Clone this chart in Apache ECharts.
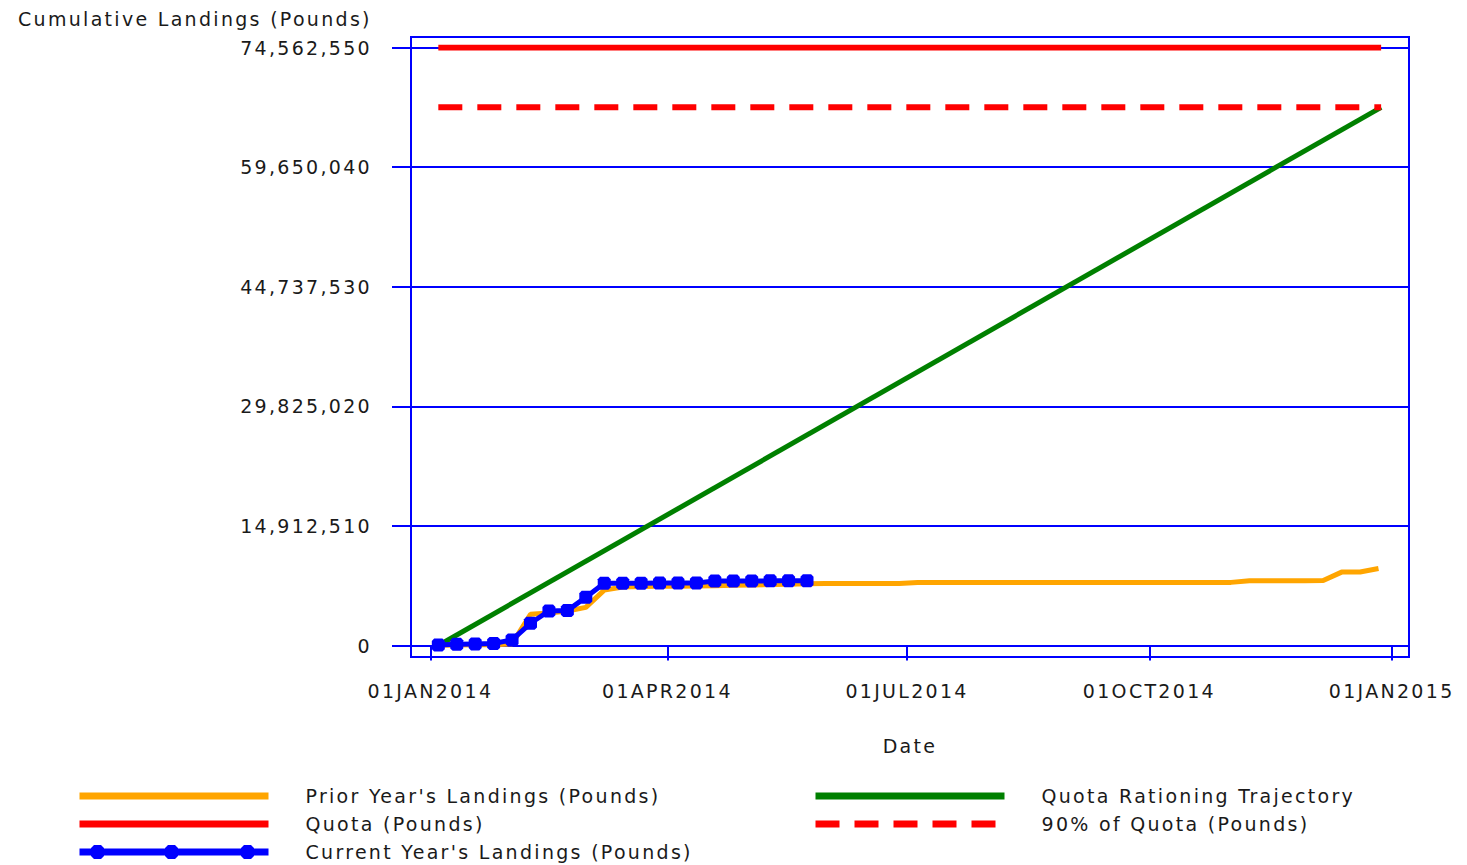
<!DOCTYPE html>
<html>
<head>
<meta charset="utf-8">
<script src="https://cdn.jsdelivr.net/npm/echarts@6/dist/echarts.min.js"></script>
<style>
html,body{margin:0;padding:0;background:#fff;}
#chart{width:1467px;height:865px;}
#chart text{letter-spacing:2.3px;}
</style>
</head>
<body>
<div id="chart"></div>
<script>
// ---- data ----
const weekDates = [
  '2014-01-04','2014-01-11','2014-01-18','2014-01-25',
  '2014-02-01','2014-02-08','2014-02-15','2014-02-22',
  '2014-03-01','2014-03-08','2014-03-15','2014-03-22','2014-03-29',
  '2014-04-05','2014-04-12','2014-04-19','2014-04-26',
  '2014-05-03','2014-05-10','2014-05-17','2014-05-24','2014-05-31',
  '2014-06-07','2014-06-14','2014-06-21','2014-06-28',
  '2014-07-05','2014-07-12','2014-07-19','2014-07-26',
  '2014-08-02','2014-08-09','2014-08-16','2014-08-23','2014-08-30',
  '2014-09-06','2014-09-13','2014-09-20','2014-09-27',
  '2014-10-04','2014-10-11','2014-10-18','2014-10-25',
  '2014-11-01','2014-11-08','2014-11-15','2014-11-22','2014-11-29',
  '2014-12-06','2014-12-13','2014-12-20','2014-12-27'
];
const priorYearLandings = [
  20000, 50000, 80000, 100000, 200000, 3900000, 4050000, 4300000, 4750000, 6900000,
  7300000, 7350000, 7380000, 7400000, 7420000, 7450000, 7500000, 7550000, 7600000, 7650000,
  7700000, 7720000, 7720000, 7720000, 7720000, 7720000,
  7870000, 7870000, 7870000, 7870000, 7870000, 7870000, 7870000, 7870000, 7870000,
  7870000, 7870000, 7870000, 7870000, 7870000, 7870000, 7870000, 7870000, 7870000,
  8070000, 8070000, 8070000, 8070000, 8100000, 9150000, 9170000, 9600000
];
const currentYearLandings = [
  50000, 150000, 200000, 250000, 700000, 2770000, 4300000, 4350000, 6010000, 7750000,
  7760000, 7770000, 7780000, 7790000, 7800000, 8030000, 8040000, 8050000, 8060000, 8060000, 8070000
];
const lineStartDate = '2014-01-04';
const lineEndDate = '2014-12-28';
const quotaPounds = 74562550;
const quota90Pounds = 67106295;
const trajectoryStart = 0;
const trajectoryEnd = 67106295;
const yTickValues = [0, 14912510, 29825020, 44737530, 59650040, 74562550];
const xTickDates = ['2014-01-01', '2014-04-01', '2014-07-01', '2014-10-01', '2015-01-01'];
const monthNames = ['JAN','FEB','MAR','APR','MAY','JUN','JUL','AUG','SEP','OCT','NOV','DEC'];
const seriesNames = {
  prior: "Prior Year's Landings (Pounds)",
  quota: 'Quota (Pounds)',
  current: "Current Year's Landings (Pounds)",
  traj: 'Quota Rationing Trajectory',
  quota90: '90% of Quota (Pounds)'
};

// ---- build chart ----
const ts = s => Date.parse(s + 'T00:00:00Z');
const BLUE = '#0000FF';
const FONT = 'DejaVu Sans';
const TXT = '#1a1a1a';
const xTicks = xTickDates.map(ts);
const hideSym = {itemStyle: {opacity: 0}};
const legendText = {fontFamily: FONT, fontSize: 19, color: TXT, lineHeight: 22, padding: [0, 0, 0, 32]};

const chart = echarts.init(document.getElementById('chart'), null, {renderer: 'svg'});
const option = {
  animation: false,
  backgroundColor: '#ffffff',
  title: {
    text: 'Cumulative Landings (Pounds)',
    left: 13, top: 4,
    textStyle: {fontFamily: FONT, fontSize: 19, fontWeight: 'normal', color: TXT}
  },
  grid: {left: 411, right: 58, top: 47.5, bottom: 219.5, containLabel: false, outerBoundsMode: 'none'},
  graphic: [{
    type: 'rect', silent: true, z: 100,
    shape: {x: 411, y: 37, width: 998, height: 620},
    style: {fill: 'none', stroke: BLUE, lineWidth: 2}
  }],
  xAxis: {
    type: 'value',
    min: Date.UTC(2013, 11, 24, 15),
    max: Date.UTC(2015, 0, 7, 14),
    offset: 11.5,
    axisLine: {show: false},
    splitLine: {show: false},
    axisTick: {show: true, length: 15, lineStyle: {color: BLUE, width: 2},
               customValues: xTicks},
    axisLabel: {
      customValues: xTicks,
      margin: 24,
      fontFamily: FONT, fontSize: 19, color: TXT,
      formatter: v => {
        const d = new Date(v);
        return String(d.getUTCDate()).padStart(2, '0') + monthNames[d.getUTCMonth()] + d.getUTCFullYear();
      }
    },
    name: 'Date',
    nameLocation: 'middle',
    nameGap: 79,
    nameTextStyle: {fontFamily: FONT, fontSize: 19, color: TXT}
  },
  yAxis: {
    type: 'value',
    min: yTickValues[0],
    max: yTickValues[yTickValues.length - 1],
    interval: yTickValues[1] - yTickValues[0],
    axisLine: {show: false},
    axisTick: {show: true, length: 19, lineStyle: {color: BLUE, width: 2}},
    splitLine: {show: true, lineStyle: {color: BLUE, width: 2}},
    axisLabel: {
      margin: 39,
      fontFamily: FONT, fontSize: 19, color: TXT,
      formatter: v => Number(v).toLocaleString('en-US')
    }
  },
  legend: [
    {
      orient: 'vertical', left: 76, top: 785, padding: 0,
      itemWidth: 189, itemHeight: 14, itemGap: 6,
      selectedMode: false,
      lineStyle: {width: 7},
      textStyle: legendText,
      data: [
        Object.assign({name: seriesNames.prior}, hideSym),
        Object.assign({name: seriesNames.quota}, hideSym),
        {name: seriesNames.current,
         icon: 'path://M0,3.5H189V10.5H0Z M14.5,0H21.5L24.5,3V11L21.5,14H14.5L11.5,11V3Z M88.5,0H95.5L98.5,3V11L95.5,14H88.5L85.5,11V3Z M164.5,0H171.5L174.5,3V11L171.5,14H164.5L161.5,11V3Z'}
      ]
    },
    {
      orient: 'vertical', left: 812, top: 785, padding: 0,
      itemWidth: 189, itemHeight: 14, itemGap: 6,
      selectedMode: false,
      lineStyle: {width: 7},
      textStyle: legendText,
      data: [
        Object.assign({name: seriesNames.traj}, hideSym),
        Object.assign({name: seriesNames.quota90}, hideSym)
      ]
    }
  ],
  series: [
    {
      name: seriesNames.prior, type: 'line', symbol: 'none', z: 2,
      color: '#FFA500',
      lineStyle: {color: '#FFA500', width: 5},
      data: weekDates.map((d, i) => [ts(d), priorYearLandings[i]])
    },
    {
      name: seriesNames.quota, type: 'line', symbol: 'none', z: 3,
      color: '#FF0000',
      lineStyle: {color: '#FF0000', width: 6},
      data: [[ts(lineStartDate), quotaPounds], [ts(lineEndDate), quotaPounds]]
    },
    {
      name: seriesNames.traj, type: 'line', symbol: 'none', z: 3,
      color: '#008000',
      lineStyle: {color: '#008000', width: 5},
      data: [[ts(lineStartDate), trajectoryStart], [ts(lineEndDate), trajectoryEnd]]
    },
    {
      name: seriesNames.quota90, type: 'line', symbol: 'none', z: 3,
      color: '#FF0000',
      lineStyle: {color: '#FF0000', width: 6, type: [24, 15]},
      data: [[ts(lineStartDate), quota90Pounds], [ts(lineEndDate), quota90Pounds]]
    },
    {
      name: seriesNames.current, type: 'line', z: 5,
      color: BLUE,
      symbol: 'path://M2,0H9L11,2V9L9,11H2L0,9V2Z', symbolSize: 13, showAllSymbol: true,
      itemStyle: {color: BLUE},
      lineStyle: {color: BLUE, width: 5},
      data: currentYearLandings.map((v, i) => [ts(weekDates[i]), v])
    }
  ]
};
chart.setOption(option);
</script>
</body>
</html>
